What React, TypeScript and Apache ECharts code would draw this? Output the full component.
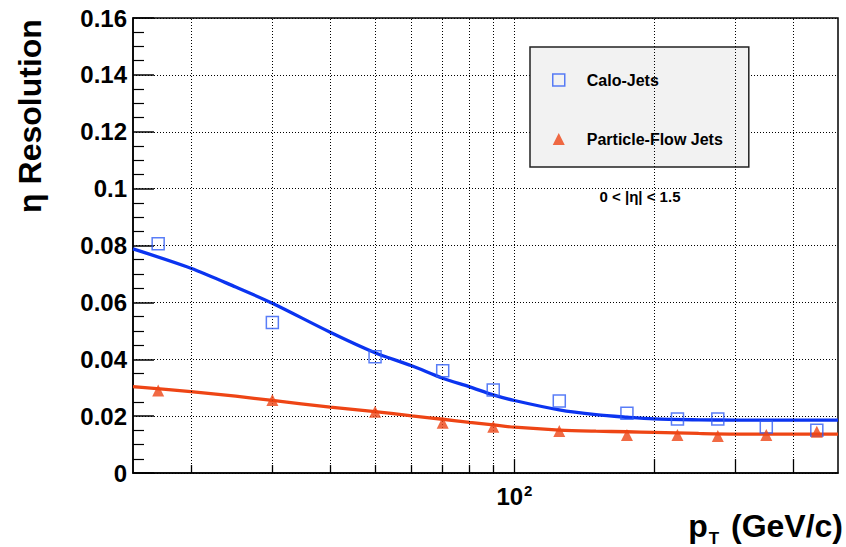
import React, { useEffect, useRef } from "react";
import * as echarts from "echarts";

// pT bin centres (GeV/c)
const ptBins = [17, 30, 50, 70, 90, 125, 175, 225, 275, 350, 450];
// eta resolution, measured points
const caloRes = [0.0806, 0.0529, 0.0409, 0.036, 0.0292, 0.0253, 0.021, 0.019, 0.019, 0.0162, 0.015];
const pfRes = [0.029, 0.0257, 0.0215, 0.0177, 0.0163, 0.0148, 0.0134, 0.0134, 0.013, 0.0134, 0.0145];

// fitted curves
const fitPt = [15, 20, 25, 30, 40, 50, 60, 70, 80, 90, 100, 125, 150, 175, 200, 250, 300, 400, 500];
const caloFit = [0.0788, 0.072, 0.0654, 0.0597, 0.0495, 0.0423, 0.0377, 0.0333, 0.0303, 0.0275, 0.0255, 0.0222, 0.0205, 0.0196, 0.019, 0.0187, 0.0186, 0.0186, 0.0186];
const pfFit = [0.0304, 0.0286, 0.027, 0.0255, 0.0232, 0.0216, 0.0201, 0.0189, 0.0178, 0.0169, 0.0161, 0.0151, 0.0147, 0.0145, 0.0143, 0.0139, 0.0137, 0.0137, 0.0137];

// x-axis grid / tick positions
const shortTicks = [20, 30, 40, 50, 60, 70, 80, 90];
const longTicks = [100, 200, 300, 400];
const xLabels = [100];

const FONT = "Liberation Sans";
const BLUE = "#0b34f0";
const BLUE_M = "#2f5cf5";
const RED = "#ee4515";

export default function App() {
  const ref = useRef<HTMLDivElement>(null);
  useEffect(() => {
    document.body.style.margin = "0";
    if (!ref.current) return;
    const chart = echarts.init(ref.current, null, { renderer: "svg" });
    const dotted = { type: [1, 2] as any, color: "#000", width: 1 };
    const gridLines = [...shortTicks, ...longTicks].map((v) => ({ xAxis: v }));
    const tickSegs = [
      ...shortTicks.map((v) => [{ coord: [v, 0] }, { coord: [v, 0.0028] }]),
      ...longTicks.map((v) => [{ coord: [v, 0] }, { coord: [v, 0.0049] }]),
    ];
    chart.setOption({
      animation: false,
      backgroundColor: "#fff",
      grid: {
        left: 133,
        top: 18,
        width: 705,
        height: 455,
        show: true,
        borderColor: "#000",
        borderWidth: 1.5,
        backgroundColor: "transparent",
      },
      xAxis: {
        type: "log",
        logBase: 10,
        min: 15,
        max: 500,
        axisLine: { show: true, lineStyle: { color: "#000", width: 1.5 } },
        axisTick: { show: false },
        splitLine: { show: false },
        axisLabel: {
          margin: 10,
          color: "#000",
          fontFamily: FONT,
          fontWeight: "bold",
          fontSize: 24,
          formatter: (v: number) =>
            xLabels.some((l) => Math.abs(v - l) < 0.5) ? "{b|10}{s|2}" : "",
          rich: {
            b: { fontFamily: FONT, fontWeight: "bold", fontSize: 24, color: "#000" },
            s: {
              fontFamily: FONT,
              fontWeight: "bold",
              fontSize: 15,
              color: "#000",
              verticalAlign: "top",
              padding: [0, 0, 12, 1],
            },
          },
        },
      },
      yAxis: {
        type: "value",
        min: 0,
        max: 0.16,
        interval: 0.02,
        axisLine: { show: true, lineStyle: { color: "#000", width: 1.5 } },
        axisTick: { show: true, inside: true, length: 21, lineStyle: { color: "#000", width: 1.5 } },
        minorTick: { show: true, splitNumber: 4, length: 11, lineStyle: { color: "#000", width: 1.2 } },
        splitLine: { show: true, lineStyle: dotted },
        axisLabel: {
          margin: 6,
          color: "#000",
          fontFamily: FONT,
          fontWeight: "bold",
          fontSize: 24,
        },
      },
      legend: {
        left: 530,
        top: 47,
        orient: "vertical",
        backgroundColor: "#f2f2f2",
        borderColor: "#222",
        borderWidth: 1.5,
        padding: [25, 26, 20, 22],
        itemWidth: 12,
        itemHeight: 12,
        itemGap: 43,
        textStyle: {
          fontSize: 16,
          fontWeight: "bold",
          fontFamily: FONT,
          color: "#000",
          padding: [0, 0, 0, 17],
        },
        data: [
          {
            name: "Calo-Jets",
            icon: "rect",
            itemStyle: { color: "transparent", borderColor: BLUE_M, borderWidth: 1.5 },
          },
          { name: "Particle-Flow Jets", icon: "triangle", itemStyle: { color: RED } },
        ],
      },
      graphic: [
        {
          type: "text",
          x: 30,
          y: 116,
          rotation: Math.PI / 2,
          style: {
            text: "η Resolution",
            font: `bold 32px "${FONT}"`,
            fill: "#000",
            align: "center",
            verticalAlign: "middle",
          },
        },
        {
          type: "text",
          x: 640,
          y: 196,
          style: {
            text: "0 < |η| < 1.5",
            font: `bold 15px "${FONT}"`,
            fill: "#000",
            align: "center",
            verticalAlign: "middle",
          },
        },
        {
          type: "text",
          x: 843,
          y: 526,
          style: {
            text: "{a|p}{b|T}{a| (GeV/c)}",
            align: "right",
            verticalAlign: "middle",
            rich: {
              a: { font: `bold 32px "${FONT}"`, fill: "#000" },
              b: { font: `bold 17px "${FONT}"`, fill: "#000", padding: [24, 3, 0, 1] },
            },
          },
        },
      ],
      series: [
        {
          name: "Calo fit",
          type: "line",
          smooth: 0.3,
          showSymbol: false,
          symbol: "none",
          lineStyle: { color: BLUE, width: 3.3 },
          data: fitPt.map((x, i) => [x, caloFit[i]]),
          z: 3,
          markLine: {
            silent: true,
            symbol: ["none", "none"],
            label: { show: false },
            lineStyle: dotted,
            data: gridLines,
          },
        },
        {
          name: "PF fit",
          type: "line",
          smooth: 0.3,
          showSymbol: false,
          symbol: "none",
          lineStyle: { color: RED, width: 3.3 },
          data: fitPt.map((x, i) => [x, pfFit[i]]),
          z: 3,
          markLine: {
            silent: true,
            symbol: ["none", "none"],
            label: { show: false },
            lineStyle: { type: "solid", color: "#000", width: 1.3 },
            data: tickSegs,
          },
        },
        {
          name: "Calo-Jets",
          type: "scatter",
          symbol: "rect",
          symbolSize: 12,
          itemStyle: { color: "transparent", borderColor: BLUE_M, borderWidth: 1.5 },
          data: ptBins.map((x, i) => [x, caloRes[i]]),
          z: 5,
        },
        {
          name: "Particle-Flow Jets",
          type: "scatter",
          symbol: "triangle",
          symbolSize: 12,
          itemStyle: { color: RED },
          data: ptBins.map((x, i) => [x, pfRes[i]]),
          z: 5,
        },
      ],
    });
    return () => chart.dispose();
  }, []);
  return (
    <div
      ref={ref}
      style={{ position: "absolute", left: 0, top: 0, width: 846, height: 547 }}
    />
  );
}
